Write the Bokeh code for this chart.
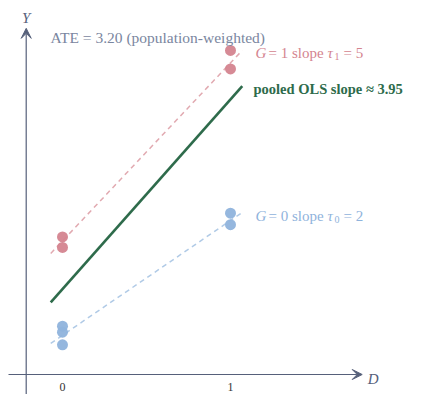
from bokeh.plotting import figure
from bokeh.models import Label, Arrow, VeeHead, ColumnDataSource
from bokeh.embed import file_html
from bokeh.resources import INLINE
from bokeh.core.properties import value

# ---- data (schematic values) ----
g1_x = [0, 0, 1, 1]
g1_y = [3.93, 3.63, 9.26, 8.73]
g0_x = [0, 0, 0, 1, 1]
g0_y = [1.38, 1.21, 0.85, 4.61, 4.28]
line_x = [-0.07, 1.07]
g1_fit = [3.46, 9.26]
g0_fit = [0.89, 4.63]
pooled_fit = [2.06, 8.24]
x_ticks = [0, 1]
x_tick_labels = ["0", "1"]

ate_text = "ATE = 3.20 (population-weighted)"
pooled_text = "pooled OLS slope \u2248 3.95"

RED = "#d4848f"
BLUE = "#8fb3dc"
GREEN = "#2e6b4b"
AXIS = "#56607a"
GRAY = "#7a86a0"
FONT = "Liberation Serif"

W, H = 407, 394
p = figure(width=W, height=H, x_range=(-0.369, 2.0536), y_range=(-0.571, 10.686),
           output_backend="svg", toolbar_location=None,
           x_axis_location=None, y_axis_location=None, min_border=0)
p.grid.visible = False
p.outline_line_color = None
p.background_fill_color = "white"

# axes drawn as arrows
x_axis_start, x_axis_end = -0.3214, 1.784
y_axis_x, y_axis_bottom, y_axis_top = -0.216, -0.571, 9.89
p.add_layout(Arrow(x_start=x_axis_start, y_start=0, x_end=x_axis_end, y_end=0,
                   line_color=AXIS, line_width=1.2,
                   end=VeeHead(size=10, fill_color=AXIS, line_color=AXIS, line_width=1)))
p.add_layout(Arrow(x_start=y_axis_x, y_start=y_axis_bottom, x_end=y_axis_x, y_end=y_axis_top,
                   line_color=AXIS, line_width=1.2,
                   end=VeeHead(size=10, fill_color=AXIS, line_color=AXIS, line_width=1)))

# fitted lines
p.line(line_x, g1_fit, line_color=RED, line_alpha=0.7, line_width=1.5, line_dash="5 4")
p.line(line_x, g0_fit, line_color=BLUE, line_alpha=0.7, line_width=1.5, line_dash="5 4")
p.line(line_x, pooled_fit, line_color=GREEN, line_width=2.6)

# points
p.scatter(g1_x, g1_y, size=11, fill_color=RED, line_color=None, fill_alpha=0.95)
p.scatter(g0_x, g0_y, size=11, fill_color=BLUE, line_color=None, fill_alpha=0.95)

# tick labels
src = ColumnDataSource(dict(x=x_ticks, y=[-0.343] * len(x_ticks), t=x_tick_labels))
p.text(x="x", y="y", text="t", source=src, text_font=value(FONT), text_font_size="12px",
       text_align="center", text_baseline="middle", text_color="#333333")


def lab(x, y, text, color, size="15px", style="normal", xo=0, yo=0, align="left"):
    p.add_layout(Label(x=x, y=y, text=text, text_color=color, text_font=FONT,
                       text_font_size=size, text_font_style=style,
                       text_baseline="alphabetic", text_align=align,
                       x_offset=xo, y_offset=yo))


# axis titles
lab(y_axis_x, 10.19, "Y", AXIS, style="italic", align="center")
lab(1.817, -0.134, "D", AXIS, style="italic")

# ATE
lab(-0.0714, 9.62, ate_text, GRAY, size="15.5px")


# group labels
def group_label(y, grp, sub, slope, color):
    x0 = 1.149
    lab(x0, y, "G", color, style="italic")
    lab(x0, y, "= %s slope" % grp, color, xo=13)
    lab(x0, y, "\u03c4", color, style="italic", xo=72)
    lab(x0, y, sub, color, size="10px", xo=79, yo=-3)
    lab(x0, y, "= %s" % slope, color, xo=88)


group_label(9.18, "1", "1", "5", RED)
group_label(4.523, "0", "0", "2", BLUE)

lab(1.137, 8.163, pooled_text, GREEN, size="14.5px", style="bold")

open("out.html", "w").write(file_html(p, INLINE))
